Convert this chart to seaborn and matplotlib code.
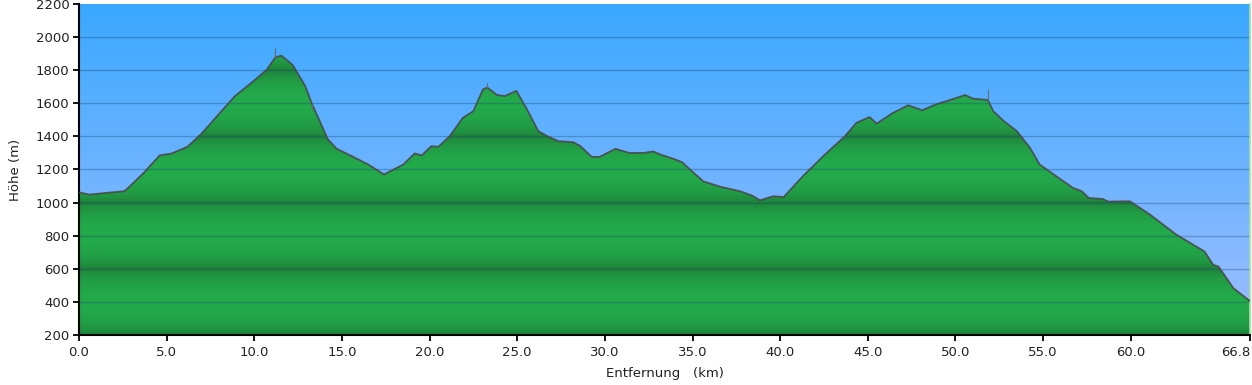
import numpy as np
import pandas as pd
import matplotlib
matplotlib.use("Agg")
import matplotlib.pyplot as plt
import seaborn as sns

# ---- data ----
km = [0.0, 0.6, 1.2, 2.6, 3.7, 4.6, 5.3, 6.2, 7.0, 7.85, 8.9, 9.85, 10.7, 11.2, 11.55,
      12.2, 12.9, 13.3, 14.2, 14.7, 15.55, 16.5, 17.4, 18.5, 19.15, 19.55, 20.1, 20.5,
      21.15, 21.9, 22.5, 23.05, 23.3, 23.85, 24.3, 24.95, 25.55, 26.2, 26.7, 27.35,
      28.2, 28.6, 29.25, 29.7, 30.6, 31.4, 32.2, 32.75, 33.15, 33.9, 34.4, 35.6, 36.6,
      37.7, 38.4, 38.85, 39.6, 40.2, 41.3, 42.5, 43.7, 44.35, 45.1, 45.5, 46.45, 47.3,
      48.1, 48.9, 49.7, 50.55, 51.0, 51.85, 52.15, 52.75, 53.5, 54.25, 54.8, 55.6,
      56.7, 57.2, 57.6, 58.4, 58.7, 59.95, 61.1, 62.6, 64.2, 64.7, 65.0, 65.85, 66.8]
elev = [1062, 1048, 1055, 1069, 1180, 1285, 1297, 1338, 1418, 1519, 1644, 1725, 1802,
        1877, 1888, 1830, 1705, 1594, 1382, 1325, 1281, 1230, 1170, 1230, 1297, 1285,
        1341, 1337, 1402, 1512, 1553, 1685, 1695, 1650, 1644, 1675, 1564, 1432, 1402,
        1371, 1365, 1341, 1276, 1276, 1325, 1300, 1300, 1309, 1291, 1265, 1244, 1129,
        1095, 1069, 1042, 1014, 1038, 1034, 1160, 1285, 1402, 1482, 1517, 1477, 1543,
        1588, 1558, 1594, 1620, 1650, 1628, 1620, 1553, 1493, 1432, 1331, 1230, 1170,
        1089, 1069, 1028, 1022, 1006, 1008, 927, 806, 705, 624, 614, 483, 405]
spike_km = [11.2, 13.3, 23.3, 51.85]
spike_from = [1877, 1594, 1695, 1620]
spike_to = [1937, 1560, 1725, 1685]

x_ticks = [0, 5, 10, 15, 20, 25, 30, 35, 40, 45, 50, 55, 60, 66.8]
x_ticklabels = ["0.0", "5.0", "10.0", "15.0", "20.0", "25.0", "30.0", "35.0",
                "40.0", "45.0", "50.0", "55.0", "60.0", "66.8"]
y_ticks = [200, 400, 600, 800, 1000, 1200, 1400, 1600, 1800, 2000, 2200]

df = pd.DataFrame({"km": km, "elev": elev})
xmin, xmax, ymin, ymax = 0, 66.8, 200, 2200

sns.set_style("white")
plt.rcParams["font.family"] = ["DejaVu Sans"]

fig = plt.figure(figsize=(12.52, 3.85), dpi=100)
ax = fig.add_axes([79 / 1252, 1 - 335 / 385, (1250 - 79) / 1252, (335 - 4) / 385])

# sky gradient
n = 400
t = np.linspace(0, 1, n)[:, None]  # 0 bottom -> 1 top
top = np.array([58, 168, 255]) / 255
bot = np.array([160, 190, 255]) / 255
sky = (bot * (1 - t) + top * t)[:, None, :]
ax.imshow(sky, extent=[xmin, xmax, ymin, ymax], origin="lower", aspect="auto",
          zorder=0, interpolation="bilinear")

# green banded gradient
yy = np.linspace(ymin, ymax, 2000)
p = ((yy - 200) % 400) / 400
b = np.sin(np.pi * p) ** 0.45
dark = np.array([28, 118, 52]) / 255
bright = np.array([35, 170, 75]) / 255
green = (dark * (1 - b[:, None]) + bright * b[:, None])[:, None, :]
poly = ax.fill_between(df["km"], ymin, df["elev"], color="none", lw=0, zorder=1)
gim = ax.imshow(green, extent=[xmin, xmax, ymin, ymax], origin="lower",
                aspect="auto", zorder=1, interpolation="bilinear")
gim.set_clip_path(poly.get_paths()[0], transform=ax.transData)

# gridlines
for yv in y_ticks[1:-1]:
    ax.axhline(yv, color="#1d4a78", alpha=0.35, lw=1.0, zorder=2)

# outline
sns.lineplot(data=df, x="km", y="elev", ax=ax, color="#4a4a4a", lw=1.3, zorder=3,
             alpha=0.9)
ax.vlines(spike_km, spike_from, spike_to, color="#6a6a6a", lw=0.8, zorder=3)

ax.set_xlim(xmin, xmax)
ax.set_ylim(ymin, ymax)
ax.set_xticks(x_ticks)
ax.set_xticklabels(x_ticklabels)
ax.get_xticklabels()[-1].set_horizontalalignment("right")
ax.set_yticks(y_ticks)
ax.tick_params(axis="both", direction="out", length=4, width=1.3, color="black",
               labelsize=9.5, labelcolor="#222222", pad=3)
ax.tick_params(axis="x", bottom=True, pad=4)
ax.tick_params(axis="y", left=True)
ax.set_xlabel("Entfernung   (km)", fontsize=9.5, color="#222222", labelpad=6)
ax.set_ylabel("Höhe (m)", fontsize=9.5, color="#222222", labelpad=10)

for s in ["left", "bottom"]:
    ax.spines[s].set_color("black")
    ax.spines[s].set_linewidth(1.5)
ax.spines["top"].set_visible(False)
ax.spines["right"].set_color("#9ee6a0")
ax.spines["right"].set_linewidth(1.2)

fig.savefig("out.png", dpi=100)
